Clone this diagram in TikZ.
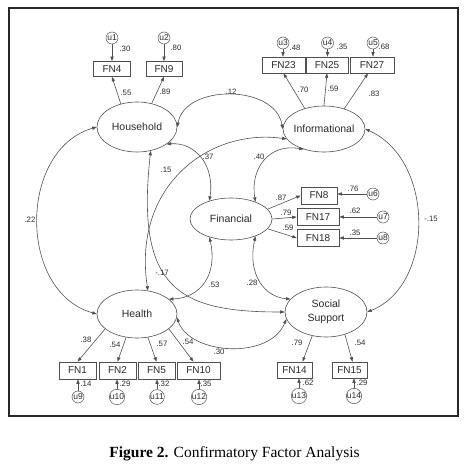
\documentclass[tikz,border=0pt]{standalone}
\usepackage{fontspec}
\setmainfont{Liberation Serif}
\setsansfont{Liberation Sans}
\usetikzlibrary{shapes.geometric,arrows.meta,calc}
\definecolor{lc}{HTML}{505050}
\definecolor{tc}{HTML}{2A2A2A}
\begin{document}
\begin{tikzpicture}[x=1pt,y=-1pt,
  lat/.style={draw=lc, line width=0.6pt, ellipse, inner sep=0pt},
  lbl/.style={font=\sffamily\fontsize{10.5}{13.5}\selectfont, text=tc, inner sep=0pt},
  obs/.style={draw=lc, line width=0.6pt, rectangle, minimum height=16pt, inner sep=0pt, font=\sffamily\fontsize{10}{12}\selectfont, text=tc},
  err/.style={draw=lc, line width=0.5pt, circle, minimum size=12pt, inner sep=0pt, font=\sffamily\fontsize{8.5}{10}\selectfont, text=tc},
  coef/.style={font=\sffamily\fontsize{7.8}{9}\selectfont, text=tc, inner sep=0pt},
  tip/.tip={Triangle[length=4.5pt,width=3.2pt]},
  arr/.style={draw=lc, line width=0.6pt, -tip},
  cov/.style={draw=lc, line width=0.6pt, tip-tip},
]
\useasboundingbox (0,0) rectangle (464,473);
\draw[line width=1.2pt, black!85] (9,8) rectangle (458,416);

% latent variables
\node[lat, minimum width=80pt, minimum height=50pt, label={[lbl]center:Household}] (hh) at (137,127) {};
\node[lat, minimum width=82pt, minimum height=46pt, label={[lbl]center:Informational}] (inf) at (324,129) {};
\node[lat, minimum width=82pt, minimum height=42pt, label={[lbl]center:Financial}] (fin) at (231,219) {};
\node[lat, minimum width=80pt, minimum height=48pt, label={[lbl]center:Health}] (he) at (137,314) {};
\node[lat, minimum width=82pt, minimum height=50pt, label={[lbl,align=center]center:Social\\Support}] (ss) at (326,312) {};

% observed variables
\node[obs, minimum width=37pt, minimum height=15pt] (fn4) at (112,69) {FN4};
\node[obs, minimum width=36pt, minimum height=15pt] (fn9) at (164,69) {FN9};
\node[obs, minimum width=43pt] (fn23) at (283.5,65) {FN23};
\node[obs, minimum width=42pt] (fn25) at (327,65) {FN25};
\node[obs, minimum width=44pt] (fn27) at (372,65) {FN27};
\node[obs, minimum width=36pt, minimum height=17pt] (fn8) at (319,195.5) {FN8};
\node[obs, minimum width=42pt, minimum height=17pt] (fn17) at (318,217) {FN17};
\node[obs, minimum width=42pt, minimum height=17pt] (fn18) at (318,238) {FN18};
\node[obs, minimum width=37pt, minimum height=17pt] (fn1) at (77.5,370.5) {FN1};
\node[obs, minimum width=37pt, minimum height=17pt] (fn2) at (117.5,370.5) {FN2};
\node[obs, minimum width=37pt, minimum height=17pt] (fn5) at (156.5,370.5) {FN5};
\node[obs, minimum width=43pt, minimum height=17pt] (fn10) at (198.5,370.5) {FN10};
\node[obs, minimum width=35pt] (fn14) at (294.5,370) {FN14};
\node[obs, minimum width=35pt] (fn15) at (349.5,370) {FN15};

% error terms
\node[err] (u1) at (112,38) {u1};
\node[err] (u2) at (164,38) {u2};
\node[err] (u3) at (283,43) {u3};
\node[err] (u4) at (327.5,43) {u4};
\node[err] (u5) at (373,43) {u5};
\node[err] (u6) at (373,194) {u6};
\node[err] (u7) at (383,217) {u7};
\node[err] (u8) at (383,238) {u8};
\node[err] (u9) at (78,397) {u9};
\node[err] (u10) at (117,397) {u10};
\node[err] (u11) at (157,397) {u11};
\node[err] (u12) at (199,397) {u12};
\node[err] (u13) at (299,396) {u13};
\node[err] (u14) at (354,396) {u14};

% error arrows
\draw[arr] (u1) -- (u1 |- fn4.north);
\draw[arr] (u2) -- (u2 |- fn9.north);
\draw[arr] (u3) -- (u3 |- fn23.north);
\draw[arr] (u4) -- (u4 |- fn25.north);
\draw[arr] (u5) -- (u5 |- fn27.north);
\draw[arr] (u6) -- (u6 -| fn8.east);
\draw[arr] (u7) -- (u7 -| fn17.east);
\draw[arr] (u8) -- (u8 -| fn18.east);
\draw[arr] (u9) -- (u9 |- fn1.south);
\draw[arr] (u10) -- (u10 |- fn2.south);
\draw[arr] (u11) -- (u11 |- fn5.south);
\draw[arr] (u12) -- (u12 |- fn10.south);
\draw[arr] (u13) -- (u13 |- fn14.south);
\draw[arr] (u14) -- (u14 |- fn15.south);

% error variances
\node[coef] at (125,49) {.30};
\node[coef] at (176,48) {.80};
\node[coef] at (295,48) {.48};
\node[coef] at (342,47) {.35};
\node[coef] at (384,47) {.68};
\node[coef] at (353,189) {.76};
\node[coef] at (355,211) {.62};
\node[coef] at (355,233) {.35};
\node[coef] at (86,384) {.14};
\node[coef] at (125,384) {.29};
\node[coef] at (164,384) {.32};
\node[coef] at (206,384) {.35};
\node[coef] at (308,383) {.62};
\node[coef] at (362,383) {.29};

% loadings
\draw[arr] (hh.125) -- (fn4.south);
\draw[arr] (hh.58) -- (fn9.south);
\draw[arr] (inf.133) -- (fn23.south);
\draw[arr] (inf.north) -- (fn25.south);
\draw[arr] (inf.45) -- ([xshift=-4pt]fn27.south);
\draw[arr] (fin.15) -- (fn8.west);
\draw[arr] (fin.east) -- (fn17.west);
\draw[arr] (fin.-15) -- (fn18.west);
\draw[arr] (he.-155) -- (fn1.north);
\draw[arr] (he.-115) -- (fn2.north);
\draw[arr] (he.-65) -- (fn5.north);
\draw[arr] (he.-25) -- ([xshift=-5pt]fn10.north);
\draw[arr] (ss.-120) -- ([xshift=8pt]fn14.north);
\draw[arr] (ss.-50) -- ([xshift=3pt]fn15.north);

\node[coef] at (126,93) {.55};
\node[coef] at (165,92) {.89};
\node[coef] at (303,90) {.70};
\node[coef] at (333,89) {.59};
\node[coef] at (374,94) {.83};
\node[coef] at (281,198) {.87};
\node[coef] at (286,213) {.79};
\node[coef] at (288,228) {.59};
\node[coef] at (86,340) {.38};
\node[coef] at (115,345) {.54};
\node[coef] at (162,344) {.57};
\node[coef] at (188,342) {.54};
\node[coef] at (297,343) {.79};
\node[coef] at (360,343) {.54};

% covariances
\draw[cov] (hh.east) .. controls (185,84) and (275,84) .. (inf.west);
\draw[cov] (hh.west) .. controls (18,150) and (18,292) .. (he.west);
\draw[cov] (inf.east) .. controls (435,160) and (435,285) .. (ss.east);
\draw[cov] (hh.-30) .. controls (195,142) and (215,165) .. (fin.140);
\draw[cov] (inf.225) .. controls (268,143) and (250,170) .. (fin.35);
\draw[cov] (fin.220) .. controls (218,275) and (200,298) .. (he.25);
\draw[cov] (fin.-35) .. controls (247,275) and (265,297) .. (ss.160);
\draw[cov] (he.-5) .. controls (190,355) and (270,360) .. (ss.190);
\draw[cov] (hh.-60) .. controls (135,290) and (180,312) .. (ss.west);
\draw[cov] (inf.195) .. controls (210,128) and (132,185) .. (he.65);

\node[coef] at (231,92) {.12};
\node[coef] at (30,220) {.22};
\node[coef] at (431,219) {-.15};
\node[coef] at (208,157) {.37};
\node[coef] at (259,157) {.40};
\node[coef] at (166,170) {.15};
\node[coef] at (162,273) {-.17};
\node[coef] at (214,285) {.53};
\node[coef] at (252,283) {.28};
\node[coef] at (219,352) {.30};

% caption
\node[font=\fontsize{15.5}{18}\selectfont, anchor=base, inner sep=0pt] (cap) at (234.5,457) {\textbf{Figure 2.} Confirmatory Factor Analysis};
\end{tikzpicture}
\end{document}
